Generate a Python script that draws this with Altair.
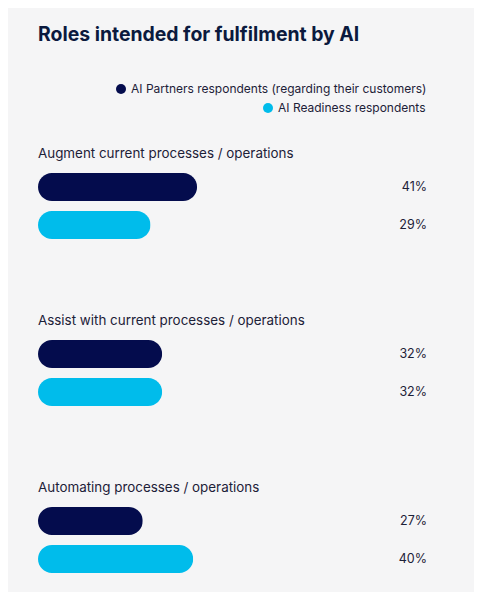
import altair as alt
import pandas as pd

categories = [
    "Augment current processes / operations",
    "Assist with current processes / operations",
    "Automating processes / operations",
]
series = [
    "AI Partners respondents (regarding their customers)",
    "AI Readiness respondents",
]
partners_values = [41, 32, 27]
readiness_values = [29, 32, 40]
label_key = "label"

rows = []
for c, p, r in zip(categories, partners_values, readiness_values):
    rows.append({"category": c, "series": series[0], "value": p})
    rows.append({"category": c, "series": series[1], "value": r})
df = pd.DataFrame(rows)
df["pct"] = df["value"].astype(str) + "%"
cat_df = pd.DataFrame({"category": categories})

NAVY = "#040c4d"
CYAN = "#00bceb"
TEXT = "#1d2138"
TITLE = "#0b1a3e"
FONT = "Inter"

y_enc = alt.Y("category:N", sort=categories, axis=None,
              scale=alt.Scale(domain=categories, paddingInner=0.3174, paddingOuter=0))
yoff_scale = alt.Scale(domain=[label_key] + series, paddingInner=0, paddingOuter=0)
x_enc = alt.X("value:Q", axis=None, scale=alt.Scale(domain=[0, 100], range=[0, 388]))


def bar_layer(s, color, lx, ly):
    return alt.Chart(df).transform_filter(alt.datum.series == s).mark_bar(
        cornerRadius=14, height=28
    ).encode(
        x=x_enc,
        y=y_enc,
        yOffset=alt.YOffset("series:N", scale=yoff_scale),
        color=alt.Color(
            "series:N",
            scale=alt.Scale(domain=[s], range=[color]),
            legend=alt.Legend(orient="none", legendX=lx, legendY=ly, title=None,
                              symbolType="circle", symbolSize=100, symbolStrokeWidth=0,
                              labelFontSize=12, labelFont=FONT, labelColor=TEXT,
                              labelLimit=500, labelOffset=4, padding=0),
        ),
    )


bars_p = bar_layer(series[0], NAVY, 77, -47)
bars_r = bar_layer(series[1], CYAN, 224, -28)

pct = alt.Chart(df).mark_text(
    align="right", baseline="middle", fontSize=12.5, font=FONT, color=TEXT
).encode(
    x=alt.value(389),
    y=y_enc,
    yOffset=alt.YOffset("series:N", scale=yoff_scale),
    text="pct:N",
)

labels = alt.Chart(cat_df).mark_text(
    align="left", baseline="middle", dy=5, fontSize=13.4, font=FONT, color=TEXT
).encode(
    x=alt.value(0),
    y=y_enc,
    yOffset=alt.YOffset(datum=label_key, scale=yoff_scale),
    text="category:N",
)

chart = alt.layer(bars_p, bars_r, pct, labels).resolve_scale(
    color="independent"
).properties(
    width=436,
    height=448,
    padding={"left": 30, "top": 122, "right": 0, "bottom": 14},
    autosize=alt.AutoSizeParams(type="none"),
    background="#f5f5f6",
    title=alt.TitleParams(
        "Roles intended for fulfilment by AI",
        anchor="start", frame="group", fontSize=19.4, fontWeight="bold",
        font=FONT, color=TITLE, offset=23, baseline="alphabetic",
    ),
).configure_view(stroke=None)

chart.save("out.html", embed_options={"renderer": "svg", "actions": False})
